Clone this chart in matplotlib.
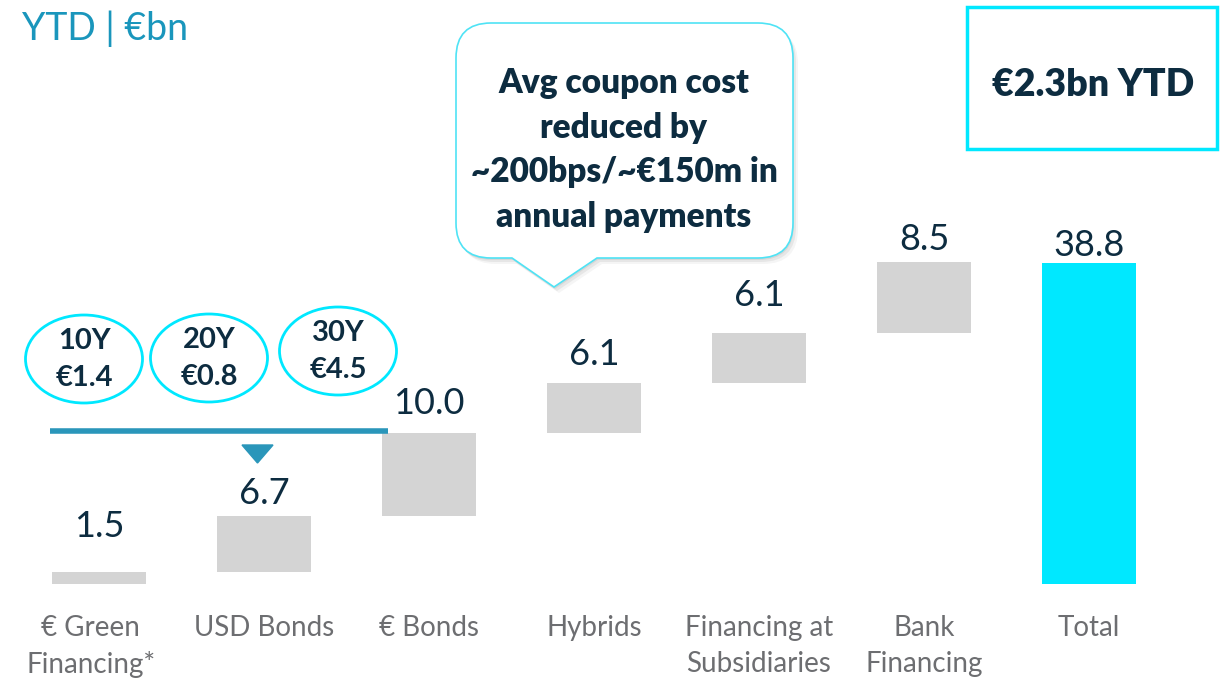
import numpy as np
import matplotlib
matplotlib.use('Agg')
import matplotlib.pyplot as plt
from matplotlib.path import Path
from matplotlib.patches import PathPatch, Ellipse, Rectangle, Polygon

plt.rcParams['font.family'] = ['Lato', 'DejaVu Sans']

# data
categories = ['€ Green\nFinancing*', 'USD Bonds', '€ Bonds', 'Hybrids',
              'Financing at\nSubsidiaries', 'Bank\nFinancing', 'Total']
values = [1.5, 6.7, 10.0, 6.1, 6.1, 8.5, 38.8]
is_total = [False, False, False, False, False, False, True]
tenors = ['10Y', '20Y', '30Y']
tenor_amounts = ['€1.4', '€0.8', '€4.5']
callout_lines = ['Avg coupon cost', 'reduced by', '~200bps/~€150m in', 'annual payments']
headline = '€2.3bn YTD'
title = 'YTD | €bn'

# style
navy = '#0D2C40'
grey_bar = '#D4D4D4'
cyan = '#00E8FF'
teal = '#2A96BA'
label_grey = '#6D6E71'
label_gap_px = [35, 12, 19, 18, 27, 12, 7]   # value label baseline above bar top
px_per_unit = 8.27

fig = plt.figure(figsize=(12.32, 6.8), dpi=100)
ax = fig.add_axes([0, 0, 1, 1])
ax.set_xlim(-0.6, 6.867)
ax.set_ylim(-11.6, 70.6)
ax.axis('off')

# waterfall bars
bottoms = []
run = 0.0
for v, t in zip(values, is_total):
    if t:
        bottoms.append(0.0)
    else:
        bottoms.append(run)
        run += v
x = np.arange(len(values))
colors = [cyan if t else grey_bar for t in is_total]
ax.bar(x, values, bottom=bottoms, width=0.57, color=colors, zorder=2)

for i, (v, b) in enumerate(zip(values, bottoms)):
    ax.text(i, b + v + label_gap_px[i] / px_per_unit, '%.1f' % v, ha='center',
            va='baseline', fontsize=26, color=navy)

for i, lab in enumerate(categories):
    ax.text(i - (0.05 if i == 0 else 0), -3.75, lab, ha='center', va='top',
            fontsize=20, color=label_grey, linespacing=1.45)

# overlay in pixel coordinates for annotations
ov = fig.add_axes([0, 0, 1, 1], zorder=3)
ov.set_xlim(0, 1232)
ov.set_ylim(680, 0)
ov.axis('off')
ov.patch.set_alpha(0)

ov.text(22, 40, title, fontsize=27, color='#1A96BC', ha='left', va='baseline')

# bracket of USD tenors
ell_xy = [(84, 359), (209, 358), (338, 351)]
for (cx, cy), tn, am in zip(ell_xy, tenors, tenor_amounts):
    ov.add_patch(Ellipse((cx, cy), 117, 88, fill=False, edgecolor=cyan, lw=2))
    ov.text(cx, cy - 18, tn, ha='center', va='center', fontsize=21,
            fontweight='bold', color=navy)
    ov.text(cx, cy + 19, am, ha='center', va='center', fontsize=21,
            fontweight='bold', color=navy)
ov.plot([50, 388], [430.5, 430.5], color=teal, lw=4, solid_capstyle='butt')
ov.add_patch(Polygon([(242, 445), (273, 445), (257.5, 463)], closed=True,
                     color=teal))

# callout bubble
def bubble(dx=0, dy=0):
    l, r, t, b, rad = 456 + dx, 793 + dx, 23 + dy, 258 + dy, 35
    verts = [(l + rad, t), (r - rad, t), (r, t), (r, t + rad), (r, b - rad),
             (r, b), (r - rad, b), (597 + dx, b), (554 + dx, 287 + dy),
             (512 + dx, b), (l + rad, b), (l, b), (l, b - rad), (l, t + rad),
             (l, t), (l + rad, t), (l + rad, t)]
    codes = [Path.MOVETO, Path.LINETO, Path.CURVE3, Path.CURVE3, Path.LINETO,
             Path.CURVE3, Path.CURVE3, Path.LINETO, Path.LINETO, Path.LINETO,
             Path.LINETO, Path.CURVE3, Path.CURVE3, Path.LINETO, Path.CURVE3,
             Path.CURVE3, Path.CLOSEPOLY]
    return Path(verts, codes)

for d, a in [(6, 0.08), (4, 0.12), (2, 0.15)]:
    ov.add_patch(PathPatch(bubble(d - 1, d), facecolor='#808080', edgecolor='none',
                           alpha=a))
ov.add_patch(PathPatch(bubble(), facecolor='white', edgecolor='#4FE3F5', lw=1.2))
for k, line in enumerate(callout_lines):
    ov.text(624, 83 + 44.7 * k, line, ha='center', va='center', fontsize=24,
            fontweight='heavy', color=navy)

# headline box
ov.add_patch(Rectangle((967, 7), 250, 142, facecolor='white', edgecolor=cyan,
                       lw=2.5))
ov.text(1093, 85, headline, ha='center', va='center', fontsize=27,
        fontweight='heavy', color=navy)

fig.savefig('out.png', dpi=100)
print('out.png')
